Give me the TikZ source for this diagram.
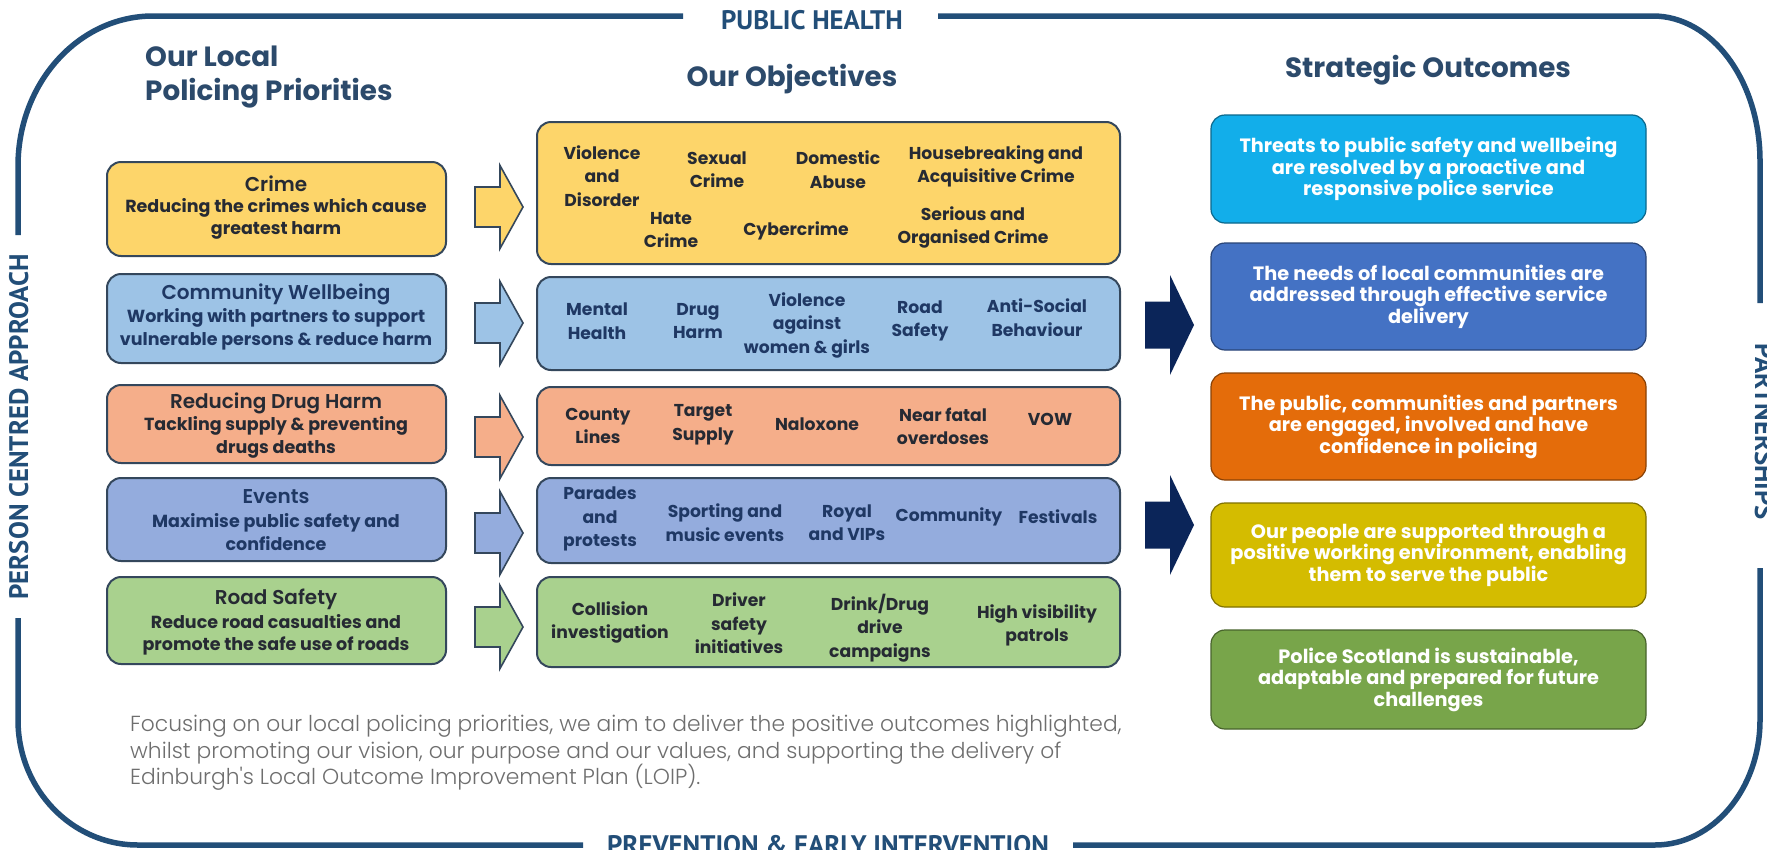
\documentclass[tikz,border=0pt]{standalone}
\usepackage{fontspec}
\setmainfont{Poppins}
\IfFontExistsTF{Poppins SemiBold}{\newfontfamily\fsemi{Poppins SemiBold}}{\newcommand\fsemi{\bfseries}}
\IfFontExistsTF{Poppins Light}{\newfontfamily\flight{Poppins Light}}{\newcommand\flight{\mdseries}}
\newfontfamily\fcond{PT Sans}

\definecolor{framec}{HTML}{224E78}
\definecolor{hdrc}{HTML}{2C4A6B}
\definecolor{edgec}{HTML}{34475C}
\definecolor{cY}{HTML}{FDD56A}
\definecolor{cB}{HTML}{9DC3E6}
\definecolor{cS}{HTML}{F5AE8A}
\definecolor{cL}{HTML}{94ACDD}
\definecolor{cG}{HTML}{A9D18E}
\definecolor{oA}{HTML}{12AEEA}
\definecolor{oB}{HTML}{4472C4}
\definecolor{oC}{HTML}{E46C0A}
\definecolor{oD}{HTML}{D4BC00}
\definecolor{oE}{HTML}{78A54A}
\definecolor{navy}{HTML}{0B2559}
\definecolor{tDark}{HTML}{262A33}
\definecolor{tNavy}{HTML}{1F3864}
\definecolor{bodyc}{HTML}{6E6E6E}

\tikzset{
  frame/.style={draw=framec, line width=5.5pt},
  framelabel/.style={font=\fcond\bfseries\fontsize{26.8}{27}\selectfont, text=framec, inner sep=0pt},
  hdr/.style={font=\bfseries\fontsize{27.8}{34}\selectfont, text=hdrc, inner sep=0pt},
  pbox/.style={draw=edgec, line width=2pt, rounded corners=14pt, minimum width=339pt},
  obox/.style={draw=edgec, line width=2pt, rounded corners=14pt, minimum width=583pt},
  sbox/.style={line width=1.2pt, rounded corners=14pt, minimum width=435pt},
  ptitle/.style={font=\fsemi\fontsize{20}{24}\selectfont, inner sep=0pt, align=center},
  pdesc/.style={font=\bfseries\fontsize{17.5}{22.5}\selectfont, inner sep=0pt, align=center},
  otext/.style={font=\bfseries\fontsize{17.2}{23.5}\selectfont, inner sep=0pt, align=center},
  stext/.style={font=\bfseries\fontsize{19.3}{21.5}\selectfont, text=white, inner sep=0pt, align=center},
  bodytext/.style={font=\flight\fontsize{21.8}{26.5}\selectfont, text=bodyc, inner sep=0pt, align=left},
  smallarrow/.pic={\path[pic actions] (-24,-20) -- (1,-20) -- (1,-41.5) -- (24,0) -- (1,41.5) -- (1,20) -- (-24,20) -- cycle;},
  bigarrow/.pic={\path[pic actions] (-24,-23.5) -- (1,-23.5) -- (1,-50) -- (25,0) -- (1,50) -- (1,23.5) -- (-24,23.5) -- cycle;},
}

\begin{document}
\begin{tikzpicture}[x=1pt,y=-1pt]
\useasboundingbox (0,0) rectangle (1767,849);
\fill[white] (0,0) rectangle (1767,849);

% surrounding frame with its four labels
\draw[frame] (683,16) -- (153,16) .. controls (78.4,16) and (18,83.2) .. (18,166) -- (18,235);
\draw[frame] (18,618) -- (18,720) .. controls (18,789) and (71.7,845) .. (138,845) -- (583,845);
\draw[frame] (1073,845) -- (1655,845) .. controls (1713,845) and (1760,789) .. (1760,720) -- (1760,568);
\draw[frame] (1760,303) -- (1760,161) .. controls (1760,81) and (1712,16) .. (1653,16) -- (938,16);

\node[framelabel, anchor=base] (ph) at (812,29) {PUBLIC HEALTH};
\node[framelabel, anchor=base] (pei) at (828,854) {PREVENTION \& EARLY INTERVENTION};
\node[framelabel, anchor=base, rotate=90] (pca) at (28,427) {PERSON CENTRED APPROACH};
\node[framelabel, anchor=base, rotate=-90] (pts) at (1755,432) {PARTNERSHIPS};

% column headings
\node[hdr, anchor=west, align=left] (h1) at (145,77) {Our Local\\Policing Priorities};
\node[hdr] (h2) at (792,79) {Our Objectives};
\node[hdr] (h3) at (1428,70) {Strategic Outcomes};

% local policing priorities
\node[pbox, fill=cY, minimum height=94pt] (p1) at (276.5,209) {};
\node[pbox, fill=cB, minimum height=89pt] (p2) at (276.5,318.5) {};
\node[pbox, fill=cS, minimum height=78pt] (p3) at (276.5,424) {};
\node[pbox, fill=cL, minimum height=83pt] (p4) at (276.5,519.5) {};
\node[pbox, fill=cG, minimum height=87pt] (p5) at (276.5,620.5) {};

\node[ptitle, text=tDark] (p1t) at (276,184) {Crime};
\node[pdesc, text=tDark] (p1d) at (276,219) {Reducing the crimes which cause\\greatest harm};
\node[ptitle, text=tNavy] (p2t) at (276,294) {Community Wellbeing};
\node[pdesc, text=tNavy] (p2d) at (276,329.5) {Working with partners to support\\vulnerable persons \& reduce harm};
\node[ptitle, text=tDark] (p3t) at (276,403) {Reducing Drug Harm};
\node[pdesc, text=tDark] (p3d) at (276,437.5) {Tackling supply \& preventing\\drugs deaths};
\node[ptitle, text=tNavy] (p4t) at (276,497) {Events};
\node[pdesc, text=tNavy] (p4d) at (276,532) {Maximise public safety and\\confidence};
\node[ptitle, text=tDark] (p5t) at (276,599) {Road Safety};
\node[pdesc, text=tDark] (p5d) at (276,635) {Reduce road casualties and\\promote the safe use of roads};

% arrows from priorities to objectives
\pic[draw=edgec, fill=cY, line width=1.6pt] at (499,207) {smallarrow};
\pic[draw=edgec, fill=cB, line width=1.6pt] at (499,323) {smallarrow};
\pic[draw=edgec, fill=cS, line width=1.6pt] at (499,437) {smallarrow};
\pic[draw=edgec, fill=cL, line width=1.6pt] at (499,533) {smallarrow};
\pic[draw=edgec, fill=cG, line width=1.6pt] at (499,627) {smallarrow};

% objectives
\node[obox, fill=cY, minimum height=142pt] (o1) at (828.5,193) {};
\node[obox, fill=cB, minimum height=93pt] (o2) at (828.5,323.5) {};
\node[obox, fill=cS, minimum height=78pt] (o3) at (828.5,426) {};
\node[obox, fill=cL, minimum height=85pt] (o4) at (828.5,520.5) {};
\node[obox, fill=cG, minimum height=90pt] (o5) at (828.5,622) {};

\begin{scope}[every node/.append style={otext, text=tDark}]
\node (o1a) at (602,176) {Violence\\and\\Disorder};
\node (o1b) at (717,169.5) {Sexual\\Crime};
\node (o1c) at (838,169.5) {Domestic\\Abuse};
\node (o1d) at (996,166.5) {Housebreaking and\\Acquisitive Crime};
\node (o1e) at (671,230) {Hate\\Crime};
\node (o1f) at (796,231) {Cybercrime};
\node (o1g) at (973,227.5) {Serious and\\Organised Crime};
\end{scope}
\begin{scope}[every node/.append style={otext, text=tNavy}]
\node (o2a) at (597,321) {Mental\\Health};
\node (o2b) at (698,321) {Drug\\Harm};
\node (o2c) at (807,325) {Violence\\against\\women \& girls};
\node (o2d) at (920,321) {Road\\Safety};
\node (o2e) at (1037,317.5) {Anti-Social\\Behaviour};
\end{scope}
\begin{scope}[every node/.append style={otext, text=tDark}]
\node (o3a) at (598,426) {County\\Lines};
\node (o3b) at (703,424.5) {Target\\Supply};
\node (o3c) at (817,424) {Naloxone};
\node (o3d) at (943,426.5) {Near fatal\\overdoses};
\node (o3e) at (1050,419) {VOW};
\end{scope}
\begin{scope}[every node/.append style={otext, text=tNavy}]
\node (o4a) at (600,519) {Parades\\and\\protests};
\node (o4b) at (725,522.5) {Sporting and\\music events};
\node (o4c) at (847,522.5) {Royal\\and VIPs};
\node (o4d) at (949,517) {Community};
\node (o4e) at (1058,517) {Festivals};
\end{scope}
\begin{scope}[every node/.append style={otext, text=tDark}]
\node (o5a) at (610,622.5) {Collision\\investigation};
\node (o5b) at (739,623.5) {Driver\\safety\\initiatives};
\node (o5c) at (880,628) {Drink/Drug\\drive\\campaigns};
\node (o5d) at (1037,625.5) {High visibility\\patrols};
\end{scope}

% arrows from objectives to outcomes
\pic[fill=navy] at (1169,325) {bigarrow};
\pic[fill=navy] at (1169,525) {bigarrow};

% strategic outcomes
\node[sbox, fill=oA, draw=oA!60!black, minimum height=108pt] (s1) at (1428.5,169) {};
\node[sbox, fill=oB, draw=oB!60!black, minimum height=107pt] (s2) at (1428.5,296.5) {};
\node[sbox, fill=oC, draw=oC!60!black, minimum height=107pt] (s3) at (1428.5,426.5) {};
\node[sbox, fill=oD, draw=oD!60!black, minimum height=104pt] (s4) at (1428.5,555) {};
\node[sbox, fill=oE, draw=oE!60!black, minimum height=99pt] (s5) at (1428.5,679.5) {};

\node[stext] (s1t) at (s1) {Threats to public safety and wellbeing\\are resolved by a proactive and\\responsive police service};
\node[stext] (s2t) at (s2) {The needs of local communities are\\addressed through effective service\\delivery};
\node[stext] (s3t) at (s3) {The public, communities and partners\\are engaged, involved and have\\confidence in policing};
\node[stext] (s4t) at (s4) {Our people are supported through a\\positive working environment, enabling\\them to serve the public};
\node[stext] (s5t) at (s5) {Police Scotland is sustainable,\\adaptable and prepared for future\\challenges};

% closing statement
\node[bodytext, anchor=west] (note) at (130,753) {Focusing on our local policing priorities, we aim to deliver the positive outcomes highlighted,\\whilst promoting our vision, our purpose and our values, and supporting the delivery of\\Edinburgh's Local Outcome Improvement Plan (LOIP).};
\end{tikzpicture}
\end{document}
